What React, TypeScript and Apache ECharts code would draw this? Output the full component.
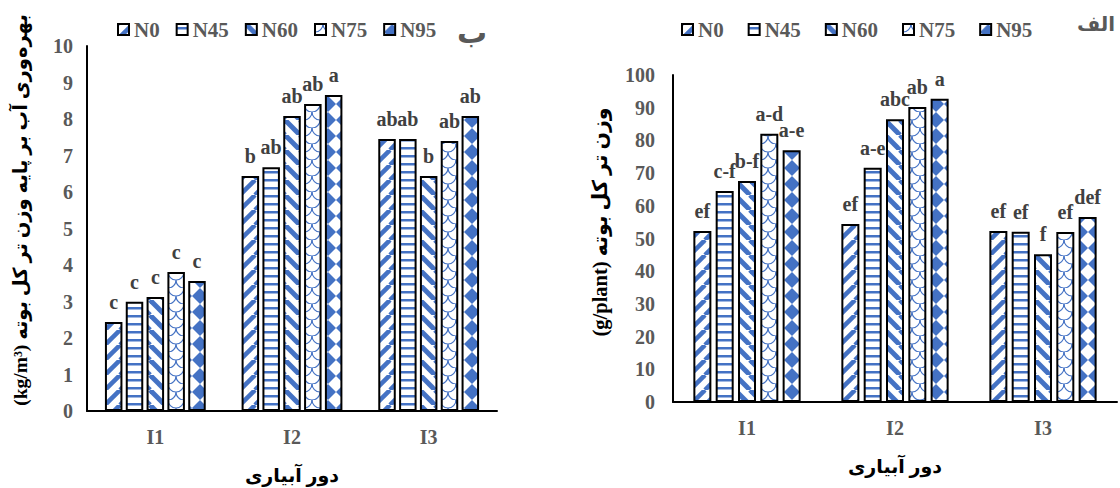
import React, { useEffect, useRef } from "react";
import * as echarts from "echarts";

const categories = ["I1", "I2", "I3"];
const seriesNames = ["N0", "N45", "N60", "N75", "N95"];

// Left chart: water productivity (kg/m3)
const wueN0 = [2.44, 6.44, 7.45];
const wueN45 = [2.99, 6.68, 7.45];
const wueN60 = [3.12, 8.08, 6.44];
const wueN75 = [3.81, 8.41, 7.4];
const wueN95 = [3.56, 8.66, 8.08];
const wueLetters = [
  ["c", "b", "ab"],
  ["c", "ab", "ab"],
  ["c", "ab", "b"],
  ["c", "ab", "ab"],
  ["c", "a", "ab"],
];

// Right chart: total fresh weight (g/plant)
const fwN0 = [52.3, 54.4, 52.3];
const fwN45 = [64.5, 71.6, 52.1];
const fwN60 = [67.6, 86.5, 45.2];
const fwN75 = [82, 90.2, 52];
const fwN95 = [77, 92.7, 56.6];
const fwLetters = [
  ["ef", "ef", "ef"],
  ["c-f", "a-e", "ef"],
  ["b-f", "abc", "f"],
  ["a-d", "ab", "ef"],
  ["a-e", "a", "def"],
];

const leftTicks = { min: 0, max: 10, interval: 1 };
const rightTicks = { min: 0, max: 100, interval: 10 };

const BLUE = "#4472C4";
const SERIF = "'Liberation Serif', 'Times New Roman', 'DejaVu Sans', serif";
const PERSIAN = "'Liberation Serif', 'DejaVu Sans', sans-serif";

function tile(size: number, draw: (ctx: CanvasRenderingContext2D, s: number) => void) {
  const c = document.createElement("canvas");
  c.width = size;
  c.height = size;
  const ctx = c.getContext("2d")!;
  ctx.fillStyle = "#ffffff";
  ctx.fillRect(0, 0, size, size);
  ctx.strokeStyle = BLUE;
  ctx.fillStyle = BLUE;
  draw(ctx, size);
  return { image: c, repeat: "repeat", imageWidth: size, imageHeight: size } as any;
}

function makePatterns() {
  const up = tile(15, (ctx, s) => {
    ctx.lineWidth = 4.5;
    for (let k = -1; k <= 1; k++) {
      ctx.beginPath();
      ctx.moveTo(k * s, s);
      ctx.lineTo(k * s + s, 0);
      ctx.stroke();
    }
  });
  const horiz = tile(8, (ctx, s) => {
    ctx.fillRect(0, 3, s, 2.5);
  });
  const down = tile(15, (ctx, s) => {
    ctx.lineWidth = 5;
    for (let k = -1; k <= 1; k++) {
      ctx.beginPath();
      ctx.moveTo(k * s, 0);
      ctx.lineTo(k * s + s, s);
      ctx.stroke();
    }
  });
  const scale = tile(16, (ctx, s) => {
    ctx.lineWidth = 1.2;
    const h = s / 2;
    const centers = [
      [0, 0],
      [s, 0],
      [h, h],
      [0, s],
      [s, s],
    ];
    centers.forEach(([cx, cy]) => {
      ctx.beginPath();
      ctx.arc(cx, cy, h, 0, Math.PI);
      ctx.stroke();
    });
  });
  const diamond = tile(16, (ctx, s) => {
    const h = s / 2;
    ctx.beginPath();
    ctx.moveTo(h, 0);
    ctx.lineTo(s, h);
    ctx.lineTo(h, s);
    ctx.lineTo(0, h);
    ctx.closePath();
    ctx.fill();
  });
  return [up, horiz, down, scale, diamond];
}

export default function App() {
  const ref = useRef<HTMLDivElement>(null);

  useEffect(() => {
    if (!ref.current) return;
    const chart = echarts.init(ref.current, undefined, { renderer: "svg" });
    const patterns = makePatterns();
    const wue = [wueN0, wueN45, wueN60, wueN75, wueN95];
    const fw = [fwN0, fwN45, fwN60, fwN75, fwN95];

    const tickLabel = {
      color: "#595959",
      fontWeight: "bold" as const,
      fontSize: 20,
      fontFamily: SERIF,
    };
    const legendText = {
      color: "#595959",
      fontWeight: "bold" as const,
      fontSize: 21,
      fontFamily: SERIF,
    };

    const makeSeries = (data: number[][], letters: string[][], idx: number, bw: number, gap: string) =>
      data.map((vals, i) => ({
        type: "bar",
        name: seriesNames[i],
        xAxisIndex: idx,
        yAxisIndex: idx,
        data: vals,
        barWidth: bw,
        barGap: gap,
        itemStyle: { color: patterns[i], borderColor: "#000", borderWidth: 2 },
        label: {
          show: true,
          position: "top",
          distance: 10,
          color: "#404040",
          fontWeight: "bold",
          fontSize: 20,
          fontFamily: SERIF,
          formatter: (p: any) => letters[i][p.dataIndex],
        },
      }));

    const axisLine = { show: true, lineStyle: { color: "#000", width: 2 } };

    chart.setOption({
      animation: false,
      backgroundColor: "#ffffff",
      grid: [
        { left: 87, right: 623, top: 46, bottom: 77 },
        { left: 673, right: 3, top: 75, bottom: 86 },
      ],
      legend: [
        {
          data: seriesNames,
          left: 112,
          top: 14,
          itemWidth: 11,
          itemHeight: 11,
          itemGap: 16,
          icon: "rect",
          textStyle: legendText,
        },
        {
          data: seriesNames,
          left: 676,
          top: 14,
          itemWidth: 11,
          itemHeight: 11,
          itemGap: 24,
          icon: "rect",
          textStyle: legendText,
        },
      ],
      xAxis: [0, 1].map((i) => ({
        type: "category",
        gridIndex: i,
        data: categories,
        axisLine,
        axisTick: { show: false },
        axisLabel: { ...tickLabel, margin: 16 },
      })),
      yAxis: [
        {
          type: "value",
          gridIndex: 0,
          ...leftTicks,
          axisLine,
          axisTick: { show: false },
          splitLine: { show: false },
          axisLabel: { ...tickLabel, margin: 14 },
        },
        {
          type: "value",
          gridIndex: 1,
          ...rightTicks,
          axisLine,
          axisTick: { show: false },
          splitLine: { show: false },
          axisLabel: { ...tickLabel, margin: 18 },
        },
      ],
      series: [
        ...makeSeries(wue, wueLetters, 0, 17.5, "19%"),
        ...makeSeries(fw, fwLetters, 1, 18, "24%"),
      ],
      graphic: [
        {
          type: "text",
          x: 472,
          y: 32,
          z: 100,
          style: {
            text: "ب",
            fill: "#595959",
            font: `bold 30px ${PERSIAN}`,
            textAlign: "center",
            textVerticalAlign: "middle",
          },
        },
        {
          type: "text",
          x: 1096,
          y: 24,
          style: {
            text: "الف",
            fill: "#595959",
            font: `bold 20px ${PERSIAN}`,
            textAlign: "center",
            textVerticalAlign: "middle",
          },
        },
        {
          type: "text",
          x: 20,
          y: 210,
          rotation: Math.PI / 2,
          style: {
            text: "(kg/m³) بهره‌وری آب بر پایه وزن تر کل بوته",
            fill: "#000",
            font: `bold 19.5px ${PERSIAN}`,
            textAlign: "center",
            textVerticalAlign: "middle",
          },
        },
        {
          type: "text",
          x: 600,
          y: 222,
          rotation: Math.PI / 2,
          style: {
            text: "(g/plant) وزن تر کل بوته",
            fill: "#000",
            font: `bold 20.5px ${PERSIAN}`,
            textAlign: "center",
            textVerticalAlign: "middle",
          },
        },
        {
          type: "text",
          x: 292,
          y: 475,
          style: {
            text: "دور آبیاری",
            fill: "#000",
            font: `bold 19px ${PERSIAN}`,
            textAlign: "center",
            textVerticalAlign: "middle",
          },
        },
        {
          type: "text",
          x: 895,
          y: 466,
          style: {
            text: "دور آبیاری",
            fill: "#000",
            font: `bold 19px ${PERSIAN}`,
            textAlign: "center",
            textVerticalAlign: "middle",
          },
        },
      ],
    });

    return () => chart.dispose();
  }, []);

  return (
    <div
      ref={ref}
      style={{ position: "fixed", left: 0, top: 0, width: 1120, height: 488, background: "#fff" }}
    />
  );
}
